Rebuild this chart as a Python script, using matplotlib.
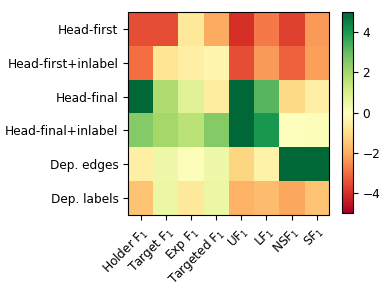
import matplotlib
matplotlib.use("Agg")
from matplotlib import pyplot as plt
import numpy as np

rows = ['Head-first', 'Head-first+inlabel', 'Head-final', 'Head-final+inlabel',
        'Dep. edges', 'Dep. labels']
cols = ['Holder F$_1$', 'Target F$_1$', 'Exp F$_1$', 'Targeted F$_1$',
        'UF$_1$', 'LF$_1$', 'NSF$_1$', 'SF$_1$']

head_first = [-3.5, -3.5, -0.7, -2.0, -4.0, -2.8, -3.7, -2.3]
head_first_inlabel = [-3.0, -0.8, -0.5, -0.3, -3.5, -2.3, -3.2, -2.2]
head_final = [5.0, 1.8, 0.8, -0.6, 5.0, 3.2, -1.1, -0.5]
head_final_inlabel = [2.5, 2.0, 1.6, 2.5, 5.0, 4.0, 0.0, 0.1]
dep_edges = [-0.5, 0.4, 0.1, 0.4, -1.2, -0.4, 5.0, 5.0]
dep_labels = [-1.6, 0.5, -0.7, 0.5, -1.9, -1.7, -2.1, -1.6]

data = np.array([head_first, head_first_inlabel, head_final,
                 head_final_inlabel, dep_edges, dep_labels])

fig = plt.figure(figsize=(3.92, 2.94), dpi=100)
ax = fig.add_axes([0.327, 0.269, 0.513, 0.69])
im = ax.imshow(data, cmap='RdYlGn', vmin=-5, vmax=5, aspect='auto')
ax.set_xticks(range(len(cols)))
ax.set_yticks(range(len(rows)))
ax.set_xticklabels(cols, rotation=45, ha='right', rotation_mode='anchor', fontsize=8.7)
ax.set_yticklabels(rows, fontsize=8.7)

cax = fig.add_axes([0.873, 0.275, 0.027, 0.684])
cb = fig.colorbar(im, cax=cax, ticks=[-4, -2, 0, 2, 4])
cb.ax.tick_params(labelsize=8.7)

fig.savefig('out.png', dpi=100)
